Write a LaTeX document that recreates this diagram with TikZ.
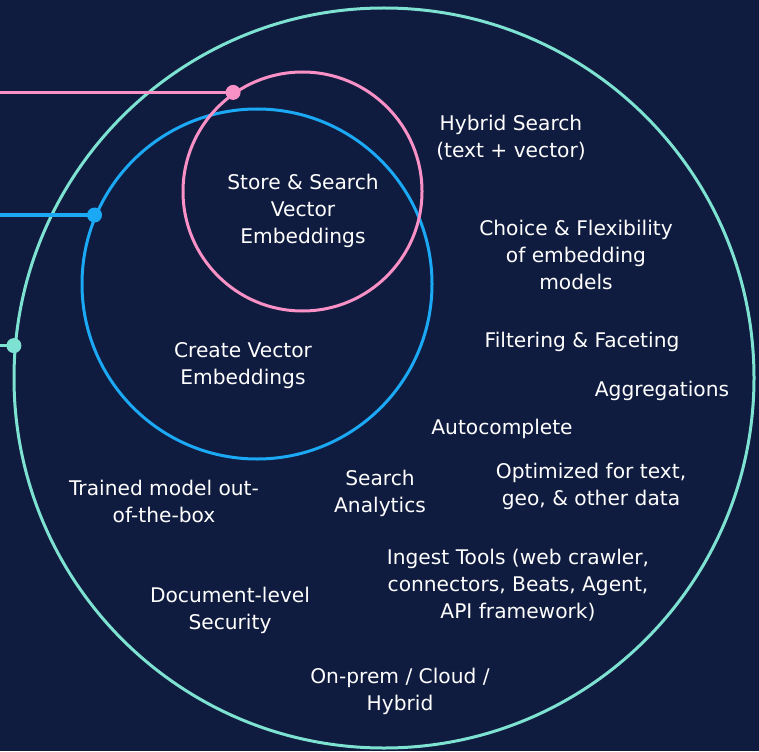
\documentclass[tikz,border=0pt]{standalone}
\usepackage{fontspec}
\setmainfont{DejaVu Sans}
\usetikzlibrary{positioning}
\definecolor{navy}{HTML}{101C3F}
\definecolor{mint}{HTML}{7DE2D1}
\definecolor{rose}{HTML}{F990C6}
\definecolor{sky}{HTML}{1BA9F5}

\begin{document}
\begin{tikzpicture}[x=1pt,y=-1pt,
    ring/.style={circle,draw=#1,line width=3pt,inner sep=0pt},
    dot/.style={circle,fill=#1,inner sep=0pt,minimum size=15pt},
    lead/.style={draw=#1,line width=3.5pt},
    feature/.style={text=white,align=center,inner sep=0pt,yshift=-1.5pt,
      font=\fontsize{20.2}{27}\selectfont}]
    \fill[navy] (0,0) rectangle (759,751);
    \useasboundingbox (0,0) rectangle (759,751);
    \coordinate (west) at (0,0);

    % rings
    \node[ring=mint, minimum size=740pt] (outer) at (384,378) {};
    \node[ring=sky, minimum size=350pt] (create) at (257,284) {};
    \node[ring=rose, minimum size=239pt] (store) at (302.5,191.5) {};

    % leads
    \coordinate (rosepin) at (store.125.5);
    \coordinate (skypin) at (create.157.9);
    \coordinate (mintpin) at (outer.175.7);
    \draw[lead=rose] (rosepin) -- (rosepin -| west);
    \draw[lead=sky] (skypin) -- (skypin -| west);
    \draw[lead=mint] (mintpin) -- (mintpin -| west);
    \node[dot=rose] (rosedot) at (rosepin) {};
    \node[dot=sky] (skydot) at (skypin) {};
    \node[dot=mint] (mintdot) at (mintpin) {};

    % texts
    \node[feature] (storetxt) at (303,209) {Store \& Search\\Vector\\Embeddings};
    \node[feature] (createtxt) at (243,364) {Create Vector\\Embeddings};
    \node[feature] (hybrid) at (511,136) {Hybrid Search\\(text + vector)};
    \node[feature] (choice) at (576,253) {Choice \& Flexibility\\of embedding\\models};
    \node[feature] (filter) at (582,340) {Filtering \& Faceting};
    \node[feature] (aggr) at (662,389) {Aggregations};
    \node[feature] (autoc) at (502,427) {Autocomplete};
    \node[feature] (analytics) at (380,492) {Search\\Analytics};
    \node[feature] (optim) at (591,485) {Optimized for text,\\geo, \& other data};
    \node[feature] (trained) at (164,500) {Trained model out-\\of-the-box};
    \node[feature] (ingest) at (518,584) {Ingest Tools (web crawler,\\connectors, Beats, Agent,\\API framework)};
    \node[feature] (security) at (230,609) {Document-level\\Security};
    \node[feature] (onprem) at (400,690) {On-prem / Cloud /\\Hybrid};
\end{tikzpicture}
\end{document}
